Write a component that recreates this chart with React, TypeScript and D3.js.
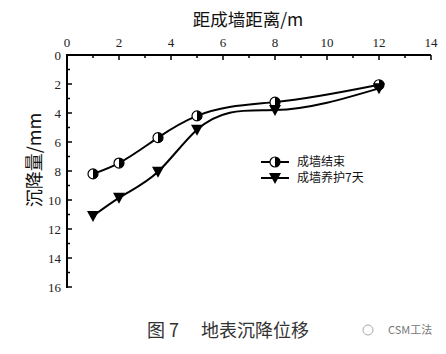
import { useEffect, useRef } from "react";
import * as d3 from "d3";

const distances = [1, 2, 3.5, 5, 8, 12];
const settleEnd = [8.2, 7.45, 5.7, 4.2, 3.25, 2.05];
const settle7d = [11.1, 9.85, 8.05, 5.15, 3.8, 2.3];
const seriesNames = ["成墙结束", "成墙养护7天"];
const xTicks = [0, 2, 4, 6, 8, 10, 12, 14];
const yTicks = [0, 2, 4, 6, 8, 10, 12, 14, 16];

const W = 446;
const H = 354;
const NUM_FONT = "'Liberation Serif', 'DejaVu Serif', serif";
const CJK_FONT = "'Noto Sans CJK SC', sans-serif";

type G = d3.Selection<SVGGElement, unknown, null, undefined>;

// Natural cubic spline y(x) over the real x spacing (like Origin's "spline"
// connect), written as a d3 curve factory so d3.line can use it.
function splineX(context: d3.Path | CanvasRenderingContext2D) {
  let xs: number[] = [];
  let ys: number[] = [];
  return {
    areaStart() {},
    areaEnd() {},
    lineStart() {
      xs = [];
      ys = [];
    },
    point(x: number, y: number) {
      xs.push(+x);
      ys.push(+y);
    },
    lineEnd() {
      const n = xs.length;
      if (!n) return;
      context.moveTo(xs[0], ys[0]);
      if (n < 3) {
        for (let i = 1; i < n; i++) context.lineTo(xs[i], ys[i]);
        return;
      }
      const h = d3.range(n - 1).map((i) => xs[i + 1] - xs[i]);
      // tridiagonal solve for second derivatives, natural ends
      const a = new Array(n).fill(0);
      const b = new Array(n).fill(1);
      const c = new Array(n).fill(0);
      const r = new Array(n).fill(0);
      for (let i = 1; i < n - 1; i++) {
        a[i] = h[i - 1];
        b[i] = 2 * (h[i - 1] + h[i]);
        c[i] = h[i];
        r[i] = 6 * ((ys[i + 1] - ys[i]) / h[i] - (ys[i] - ys[i - 1]) / h[i - 1]);
      }
      for (let i = 1; i < n; i++) {
        const m = a[i] / b[i - 1];
        b[i] -= m * c[i - 1];
        r[i] -= m * r[i - 1];
      }
      const M = new Array(n).fill(0);
      M[n - 1] = r[n - 1] / b[n - 1];
      for (let i = n - 2; i >= 0; i--) M[i] = (r[i] - c[i] * M[i + 1]) / b[i];
      for (let i = 0; i < n - 1; i++) {
        const hi = h[i];
        const s = (ys[i + 1] - ys[i]) / hi;
        const d0 = s - (hi * (2 * M[i] + M[i + 1])) / 6;
        const d1 = s + (hi * (M[i] + 2 * M[i + 1])) / 6;
        context.bezierCurveTo(
          xs[i] + hi / 3, ys[i] + (hi / 3) * d0,
          xs[i + 1] - hi / 3, ys[i + 1] - (hi / 3) * d1,
          xs[i + 1], ys[i + 1],
        );
      }
    },
  };
}

export default function App() {
  const ref = useRef<SVGSVGElement | null>(null);

  useEffect(() => {
    if (!ref.current) return;
    const svg = d3.select(ref.current);
    svg.selectAll("*").remove();

    const x = d3.scaleLinear().domain([0, 14]).range([67, 431]);
    const y = d3.scaleLinear().domain([0, 16]).range([55, 287]);

    // axes: only top and left, ticks pointing inward
    const ax = svg.append("g").attr("stroke", "#000");
    ax.append("line")
      .attr("x1", x(0)).attr("x2", x(14))
      .attr("y1", y(0)).attr("y2", y(0))
      .attr("stroke-width", 2);
    ax.append("line")
      .attr("x1", x(0)).attr("x2", x(0))
      .attr("y1", y(0) - 1).attr("y2", y(16) + 1)
      .attr("stroke-width", 2);

    d3.range(0, 15).forEach((v) => {
      const len = v % 2 === 0 ? 5 : 3;
      ax.append("line")
        .attr("x1", x(v)).attr("x2", x(v))
        .attr("y1", y(0)).attr("y2", y(0) + len)
        .attr("stroke-width", 1.5);
    });
    d3.range(0, 17).forEach((v) => {
      const len = v % 2 === 0 ? 5 : 3;
      ax.append("line")
        .attr("x1", x(0)).attr("x2", x(0) + len)
        .attr("y1", y(v)).attr("y2", y(v))
        .attr("stroke-width", 1.5);
    });

    svg.append("g")
      .selectAll("text")
      .data(xTicks)
      .join("text")
      .attr("x", (d) => x(d))
      .attr("y", y(0) - 8)
      .attr("text-anchor", "middle")
      .attr("font-family", NUM_FONT)
      .attr("font-size", 13)
      .attr("fill", "#222")
      .text((d) => d);

    svg.append("g")
      .selectAll("text")
      .data(yTicks)
      .join("text")
      .attr("x", x(0) - 6)
      .attr("y", (d) => y(d))
      .attr("dy", "0.35em")
      .attr("text-anchor", "end")
      .attr("font-family", NUM_FONT)
      .attr("font-size", 13)
      .attr("fill", "#222")
      .text((d) => d);

    // titles
    svg.append("text")
      .attr("x", 248).attr("y", 26)
      .attr("text-anchor", "middle")
      .attr("font-family", CJK_FONT)
      .attr("font-size", 17.5)
      .attr("fill", "#111")
      .text("距成墙距离/m");
    svg.append("text")
      .attr("transform", `translate(41,160) rotate(-90)`)
      .attr("text-anchor", "middle")
      .attr("font-family", CJK_FONT)
      .attr("font-size", 18)
      .attr("fill", "#111")
      .text("沉降量/mm");

    const line = d3
      .line<[number, number]>()
      .x((d) => x(d[0]))
      .y((d) => y(d[1]))
      .curve(splineX as unknown as d3.CurveFactory);

    const s1: [number, number][] = distances.map((d, i) => [d, settleEnd[i]]);
    const s2: [number, number][] = distances.map((d, i) => [d, settle7d[i]]);

    svg.append("path").attr("d", line(s1)).attr("fill", "none")
      .attr("stroke", "#000").attr("stroke-width", 2);
    svg.append("path").attr("d", line(s2)).attr("fill", "none")
      .attr("stroke", "#000").attr("stroke-width", 2);

    const halfCircle = (g: G, cx: number, cy: number) => {
      const r = 5;
      g.append("circle").attr("cx", cx).attr("cy", cy).attr("r", r)
        .attr("fill", "#fff").attr("stroke", "#000").attr("stroke-width", 1.2);
      g.append("path")
        .attr("d", `M${cx},${cy - r} A${r},${r} 0 0 1 ${cx},${cy + r} Z`)
        .attr("fill", "#000");
    };
    const triangle = (g: G, cx: number, cy: number) => {
      g.append("path")
        .attr("d", `M${cx - 6},${cy - 5} L${cx + 6},${cy - 5} L${cx},${cy + 6} Z`)
        .attr("fill", "#000");
    };

    const marks = svg.append("g") as G;
    s1.forEach((p) => halfCircle(marks, x(p[0]), y(p[1])));
    s2.forEach((p) => triangle(marks, x(p[0]), y(p[1])));

    // legend
    const lg = svg.append("g") as G;
    [162, 178].forEach((yy, i) => {
      lg.append("line").attr("x1", 261).attr("x2", 289)
        .attr("y1", yy).attr("y2", yy)
        .attr("stroke", "#000").attr("stroke-width", 2);
      if (i === 0) halfCircle(lg, 275, yy);
      else triangle(lg, 275, yy);
      lg.append("text")
        .attr("x", 297).attr("y", yy).attr("dy", "0.35em")
        .attr("font-family", CJK_FONT)
        .attr("font-size", 12)
        .attr("fill", "#111")
        .text(seriesNames[i]);
    });

    // caption + watermark
    svg.append("text")
      .attr("x", 147).attr("y", 337)
      .attr("font-family", CJK_FONT)
      .attr("font-size", 18)
      .attr("fill", "#333")
      .text("图 7\u3000 地表沉降位移");
    svg.append("circle").attr("cx", 368).attr("cy", 330).attr("r", 5)
      .attr("fill", "none").attr("stroke", "#aaa").attr("stroke-width", 1);
    svg.append("text")
      .attr("x", 388).attr("y", 334)
      .attr("font-family", CJK_FONT)
      .attr("font-size", 11)
      .attr("fill", "#777")
      .text("CSM工法");
  }, []);

  return (
    <svg
      ref={ref}
      width={W}
      height={H}
      style={{ position: "absolute", left: 0, top: 0, background: "#fff" }}
    />
  );
}
